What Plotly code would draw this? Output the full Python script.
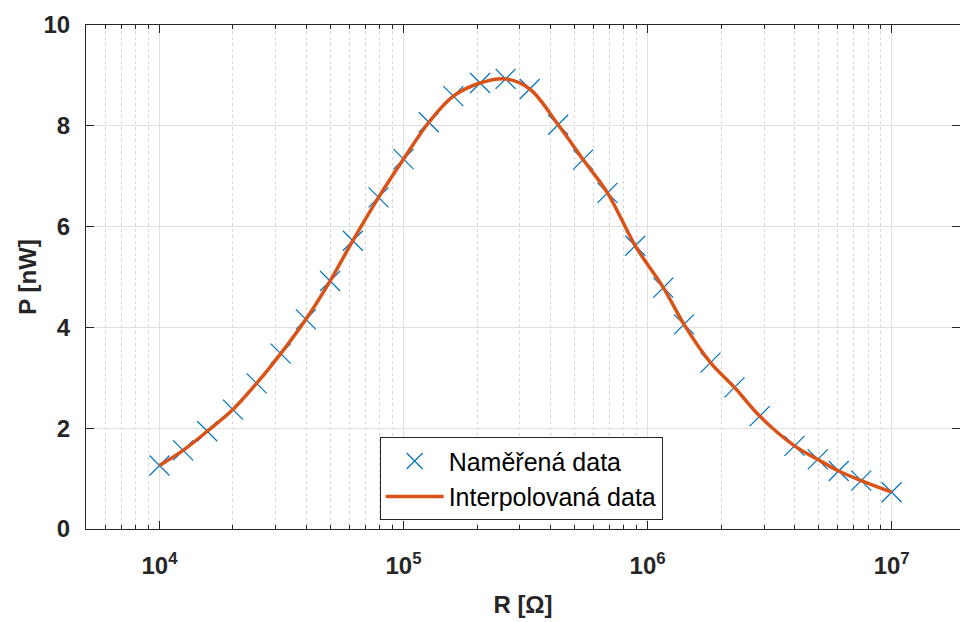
import plotly.graph_objects as go

# odpor [Ohm] a vykon [nW]
R = [1.0e4, 1.25e4, 1.57e4, 2.0e4, 2.5e4, 3.14e4, 3.98e4, 5.0e4, 6.2e4, 7.9e4,
     1.0e5, 1.27e5, 1.6e5, 2.06e5, 2.62e5, 3.29e5, 4.3e5, 5.44e5, 6.85e5, 8.9e5,
     1.16e6, 1.41e6, 1.81e6, 2.27e6, 2.88e6, 4.0e6, 4.98e6, 6.07e6, 7.5e6, 1.0e7]
P = [1.26, 1.56, 1.94, 2.37, 2.89, 3.48, 4.16, 4.92, 5.72, 6.58,
     7.34, 8.07, 8.59, 8.85, 8.93, 8.73, 8.02, 7.33, 6.67, 5.62,
     4.79, 4.06, 3.30, 2.81, 2.24, 1.65, 1.38, 1.15, 0.96, 0.73]

x_ticks = [1e4, 1e5, 1e6, 1e7]
x_ticktext = ["10<sup>4</sup>", "10<sup>5</sup>", "10<sup>6</sup>", "10<sup>7</sup>"]

minor_vals = [m * 10 ** e for e in range(3, 8) for m in range(2, 10)]

fig = go.Figure()
fig.add_scatter(
    x=R, y=P, mode="markers", name="Naměřená data",
    marker=dict(symbol="x-thin", size=20, color="#0072BD",
                line=dict(width=1.2, color="#0072BD")),
)
fig.add_scatter(
    x=R, y=P, mode="lines", name="Interpolovaná data",
    line=dict(color="#D95319", width=3.5, shape="spline", smoothing=1.0),
)

font = "Liberation Sans, Arial, sans-serif"
fig.update_layout(
    width=960, height=622,
    margin=dict(l=86, r=0, t=25, b=93),
    plot_bgcolor="white", paper_bgcolor="white",
    font=dict(family=font, color="#262626"),
    legend=dict(
        x=0.336, y=0.182, xanchor="left", yanchor="top",
        bordercolor="#262626", borderwidth=1, bgcolor="white",
        font=dict(size=25, color="black"),
        tracegroupgap=0, itemwidth=58,
    ),
)
fig.update_xaxes(
    type="log", range=[3.699, 7.28], automargin=False,
    tickvals=x_ticks, ticktext=x_ticktext,
    tickfont=dict(size=24, weight="bold"),
    ticks="inside", ticklen=8, tickcolor="#262626",
    showline=True, linecolor="#262626", linewidth=1, mirror="ticks",
    showgrid=True, gridcolor="#e0e0e0", gridwidth=1,
    ticklabelstandoff=15,
    minor=dict(tickvals=minor_vals, ticks="inside", ticklen=4, tickcolor="#262626",
               showgrid=True, gridcolor="#d8d8d8", griddash="dot", gridwidth=1),
    title=dict(text="R [Ω]", font=dict(size=24, weight="bold"), standoff=18),
    zeroline=False,
)
fig.update_yaxes(
    range=[0, 10], dtick=2, automargin=False,
    tickfont=dict(size=24, weight="bold"),
    ticks="inside", ticklen=8, tickcolor="#262626",
    showline=True, linecolor="#262626", linewidth=1, mirror="ticks",
    showgrid=True, gridcolor="#e0e0e0", gridwidth=1,
    ticklabelstandoff=10,
    title=dict(text="P [nW]", font=dict(size=24, weight="bold"), standoff=0),
    zeroline=False,
)

fig.write_html("out.html", config={"displayModeBar": False},
               post_script="document.body.style.margin='0';")
